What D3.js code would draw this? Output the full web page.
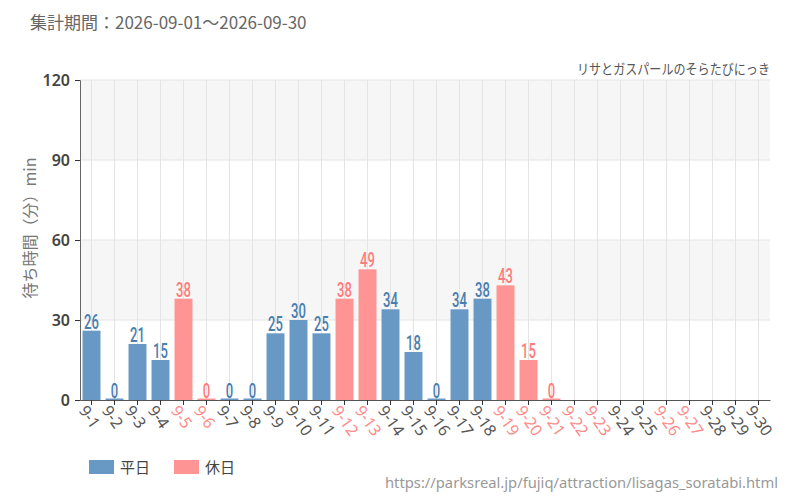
<!DOCTYPE html>
<html><head><meta charset="utf-8">
<script src="https://cdn.jsdelivr.net/npm/d3@7"></script>
<style>
body{margin:0;background:#fff;}
svg{display:block;font-family:"Noto Sans CJK JP","Noto Sans",sans-serif;}
</style></head>
<body><svg id="c" width="800" height="500"></svg>
<script>
const categories = ["9-1","9-2","9-3","9-4","9-5","9-6","9-7","9-8","9-9","9-10","9-11","9-12","9-13","9-14","9-15","9-16","9-17","9-18","9-19","9-20","9-21","9-22","9-23","9-24","9-25","9-26","9-27","9-28","9-29","9-30"];
const waitTimes = [26,0,21,15,38,0,0,0,25,30,25,38,49,34,18,0,34,38,43,15,0,null,null,null,null,null,null,null,null,null];
const holidays = ["9-5","9-6","9-12","9-13","9-19","9-20","9-21","9-22","9-23","9-26","9-27"];
const yTicks = [0,30,60,90,120];
const titleText = "集計期間：2026-09-01～2026-09-30";
const subtitleText = "リサとガスパールのそらたびにっき";
const yTitle = "待ち時間（分）min";
const legendItems = ["平日","休日"];
const sourceText = "https://parksreal.jp/fujiq/attraction/lisagas_soratabi.html";

const colors = {weekday:"#6899c4", holiday:"#ff9494", weekdayLabel:"#4a7eae", holidayLabel:"#ff7b7b", holidayTick:"#ff8a8a"};
const svg = d3.select("#c");
const m = {l:80, r:770, t:80, b:400};
const x = d3.scaleBand().domain(categories).range([m.l, m.r]).paddingInner(0.22).paddingOuter(0.11);
const y = d3.scaleLinear().domain([0,120]).range([m.b, m.t]);
const isHol = d => holidays.includes(d);

// background bands
const bandPairs = [[90,120],[30,60]];
svg.selectAll("rect.band").data(bandPairs).join("rect")
  .attr("x", m.l).attr("width", m.r-m.l)
  .attr("y", d=>y(d[1])).attr("height", d=>y(d[0])-y(d[1]))
  .attr("fill","#f6f6f6");
svg.selectAll("line.hg").data(yTicks.filter(d=>d>0)).join("line")
  .attr("x1",m.l).attr("x2",m.r).attr("y1",d=>y(d)).attr("y2",d=>y(d))
  .attr("stroke","#e4e4e4").attr("stroke-width",1);
svg.selectAll("line.vg").data(categories).join("line")
  .attr("x1",d=>x(d)+x.bandwidth()/2).attr("x2",d=>x(d)+x.bandwidth()/2)
  .attr("y1",m.t).attr("y2",m.b)
  .attr("stroke","#e4e4e4").attr("stroke-width",1);

// bars
const data = categories.map((c,i)=>({c, v:waitTimes[i]})).filter(d=>d.v!==null);
svg.selectAll("rect.bar").data(data).join("rect")
  .attr("x",d=>x(d.c)).attr("width",x.bandwidth())
  .attr("y",d=>Math.min(y(d.v), m.b-1.5)).attr("height",d=>Math.max(m.b-y(d.v),1.5))
  .attr("fill",d=>isHol(d.c)?colors.holiday:colors.weekday);
// value labels (condensed look via horizontal scaling)
svg.selectAll("text.val").data(data).join("text")
  .attr("transform",d=>`translate(${x(d.c)+x.bandwidth()/2},${y(d.v)-2}) scale(0.62,1)`)
  .attr("text-anchor","middle")
  .attr("font-family","Roboto,sans-serif")
  .attr("font-size",21).attr("font-weight",500)
  .attr("fill",d=>isHol(d.c)?colors.holidayLabel:colors.weekdayLabel)
  .text(d=>d.v);

// y axis
const yAxis = svg.append("g").attr("transform",`translate(${m.l},0)`)
  .call(d3.axisLeft(y).tickValues(yTicks).tickSize(5).tickPadding(5));
yAxis.select(".domain").attr("stroke","#666");
yAxis.selectAll(".tick line").attr("stroke","#333");
yAxis.selectAll(".tick text").attr("font-size",16).attr("font-weight",600).attr("fill","#444")
  .attr("font-family","'Noto Sans',sans-serif");

// x axis
const xAxis = svg.append("g").attr("transform",`translate(0,${m.b})`)
  .call(d3.axisBottom(x).tickSize(5).tickSizeOuter(0));
xAxis.select(".domain").attr("stroke","#555");
xAxis.selectAll(".tick line").attr("stroke","#333");
xAxis.selectAll(".tick text")
  .attr("font-size",16).attr("font-family","'Noto Sans',sans-serif")
  .attr("fill",d=>isHol(d)?colors.holidayTick:"#555")
  .attr("text-anchor","start")
  .attr("transform","translate(-4,4) rotate(55)")
  .attr("y",0).attr("x",0).attr("dy","0.71em");

// y title
svg.append("text").attr("transform",`translate(36,228) rotate(-90)`)
  .attr("text-anchor","middle").attr("font-size",16).attr("fill","#777").text(yTitle);

// title
svg.append("text").attr("x",30).attr("y",29).attr("font-size",17).attr("fill","#666").text(titleText);
svg.append("text").attr("x",770).attr("y",74).attr("text-anchor","end").attr("font-size",14)
  .attr("textLength",193).attr("lengthAdjust","spacingAndGlyphs").attr("fill","#555").text(subtitleText);

// legend
const lg = svg.append("g").selectAll("g").data(legendItems).join("g")
  .attr("transform",(d,i)=>`translate(${89+i*85},460)`);
lg.append("rect").attr("width",25).attr("height",14).attr("fill",(d,i)=>i?colors.holiday:colors.weekday);
lg.append("text").attr("x",31).attr("y",13).attr("font-size",15).attr("fill","#444").text(d=>d);

// source
svg.append("text").attr("x",778).attr("y",488).attr("text-anchor","end")
  .attr("font-family","'Noto Sans',sans-serif")
  .attr("font-size",15).attr("textLength",393).attr("lengthAdjust","spacingAndGlyphs")
  .attr("fill","#999").text(sourceText);
</script></body></html>
